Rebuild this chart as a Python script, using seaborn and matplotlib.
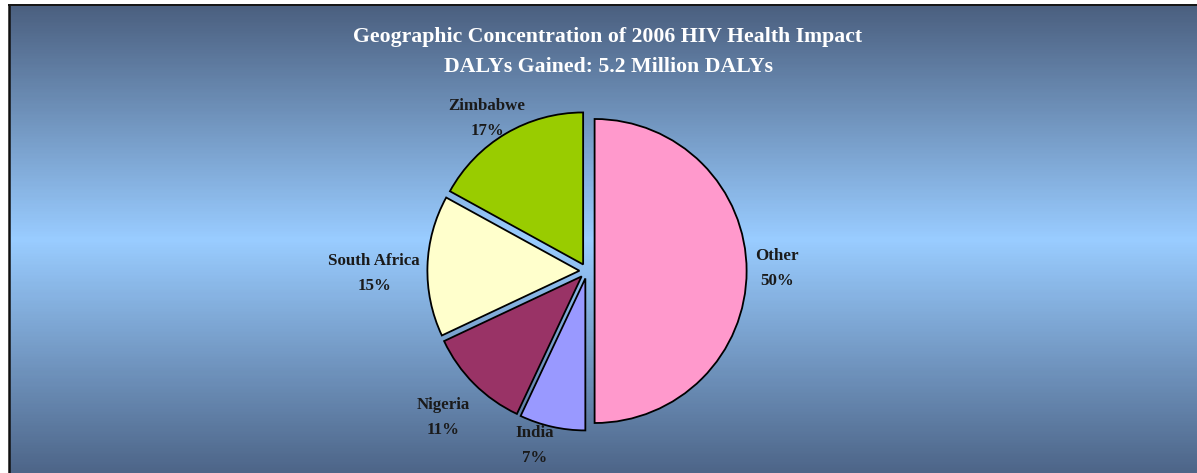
import numpy as np
import matplotlib
matplotlib.use("Agg")
import matplotlib.pyplot as plt
from matplotlib.colors import LinearSegmentedColormap
from matplotlib.lines import Line2D
import seaborn as sns

# ---- data ----
countries = ["Other", "India", "Nigeria", "South Africa", "Zimbabwe"]
shares = [50, 7, 11, 15, 17]
slice_colors = ["#FF99CC", "#9999FF", "#993366", "#FFFFCC", "#99CC00"]
title_line1 = "Geographic Concentration of 2006 HIV Health Impact"
title_line2 = "DALYs Gained: 5.2 Million DALYs"

# ---- layout / style ----
label_dist = [1.20, 1.145, 1.30, 1.35, 1.147]
label_angle_shift = [0.9, -4.2, 0.6, 2.6, 2.8]
W, H = 1197, 473
R_PX = 152.0
CX, CY = 587.0, 473 - 271.0
LEFT_PX, TOP_PX = 9.0, 6.0
PIE_AX_W_PX = 1000.0

sns.set_theme(style="white")
plt.rcParams["font.family"] = ["Liberation Serif", "DejaVu Serif"]
plt.rcParams["figure.edgecolor"] = "none"
plt.rcParams["savefig.edgecolor"] = "none"

fig = plt.figure(figsize=(W / 100, H / 100), dpi=100, frameon=True)
fig.patch.set_facecolor("white")
fig.patch.set_linewidth(0)

# background gradient panel (vector mesh, no image resampling)
bg = fig.add_axes([LEFT_PX / W, 0, 1.02 - LEFT_PX / W, 1 - TOP_PX / H])
bg.set_axis_off()
cmap = LinearSegmentedColormap.from_list(
    "bg", [(0.0, "#4d6588"), (0.5, "#99ccff"), (1.0, "#4b6080")])
yedges = np.linspace(0, 1, 300)
xedges = np.array([0.0, 1.0])
vals = 0.5 * (yedges[:-1] + yedges[1:]).reshape(-1, 1)
bg.pcolormesh(xedges, yedges, vals, cmap=cmap, shading="flat",
              antialiased=False, edgecolors="none")
bg.set_xlim(0, 1)
bg.set_ylim(0, 1)

# panel borders (left and top)
fig.add_artist(Line2D([(LEFT_PX - 0.5) / W] * 2, [0, 1 - (TOP_PX - 0.5) / H],
                      transform=fig.transFigure, color="#111111", lw=1.8,
                      solid_capstyle="butt"))
fig.add_artist(Line2D([(LEFT_PX - 1.2) / W, 1.01], [1 - (TOP_PX - 0.5) / H] * 2,
                      transform=fig.transFigure, color="#111111", lw=1.4,
                      solid_capstyle="butt"))

# pie axes (1 data unit = R_PX pixels)
ax = fig.add_axes([0, 0, PIE_AX_W_PX / W, 1])
ax.patch.set_alpha(0)
wedges, texts = ax.pie(
    shares,
    labels=[f"{c}\n{s}%" for c, s in zip(countries, shares)],
    colors=slice_colors,
    startangle=90,
    counterclock=False,
    explode=[0.05] * len(shares),
    wedgeprops=dict(edgecolor="black", linewidth=1.3),
    textprops=dict(fontsize=12.2, fontweight="bold", color="#1a1a1a"),
)
for w, t, d, sh in zip(wedges, texts, label_dist, label_angle_shift):
    mid = np.deg2rad(0.5 * (w.theta1 + w.theta2) + sh)
    cx, cy = w.center
    t.set_position((cx + d * np.cos(mid), cy + d * np.sin(mid)))
    t.set_ha("center")
    t.set_va("center")
    t.set_linespacing(1.75)

ax.set_aspect("auto")
ax.set_xlim(-CX / R_PX, (PIE_AX_W_PX - CX) / R_PX)
ax.set_ylim(-CY / R_PX, (H - CY) / R_PX)
ax.set_axis_off()

fig.text(608 / W, 1 - 37 / H, title_line1, ha="center", va="center",
         color="white", fontsize=15.7, fontweight="bold")
fig.text(608 / W, 1 - 67 / H, title_line2, ha="center", va="center",
         color="white", fontsize=15.7, fontweight="bold")

fig.savefig("out.png", dpi=100)
